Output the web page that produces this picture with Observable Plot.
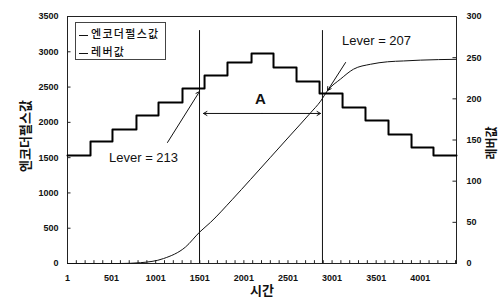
<!DOCTYPE html>
<html>
<head>
<meta charset="utf-8">
<script src="https://cdn.jsdelivr.net/npm/d3@7"></script>
<script src="https://cdn.jsdelivr.net/npm/@observablehq/plot@0.6"></script>
<style>
  html, body { margin: 0; padding: 0; background: #fff; }
  #wrap { position: relative; width: 500px; height: 303px; }
  #legend {
    position: absolute; left: 75px; top: 22px; width: 91px; height: 38px;
    border: 1px solid #444; background: #fff; box-sizing: border-box;
    font-family: "Noto Sans CJK KR", sans-serif; font-size: 11px; font-weight: 500;
    color: #111; padding-top: 1px;
  }
  #legend .row { height: 18px; line-height: 18px; white-space: nowrap; letter-spacing: 1.3px; }
  #legend .dash { display: inline-block; width: 9px; height: 1px; background: #111;
    vertical-align: middle; margin-left: 3px; margin-right: 3px; }
</style>
</head>
<body>
<div id="wrap"><div id="chart"></div>
<div id="legend"><div class="row"><span class="dash"></span>엔코더펄스값</div><div class="row"><span class="dash"></span>레버값</div></div>
</div>
<script>
// Encoder pulse value (step function, left axis)
const encTime  = [1, 262, 511, 783, 1033, 1305, 1555, 1815, 2088, 2337, 2598, 2859, 3120, 3380, 3641, 3902, 4151, 4412];
const encValue = [1530, 1729, 1899, 2097, 2281, 2480, 2664, 2848, 2976, 2777, 2579, 2409, 2210, 2026, 1828, 1643, 1530, 1530];

// Lever value (right axis, 0-300)
const leverTime  = [1, 602, 829, 1090, 1339, 1498, 1623, 1872, 2076, 2303, 2530, 2757, 2870, 2950, 3097, 3244, 3437, 3630, 3811, 4004, 4412];
const leverValue = [0, 0, 1, 6, 20, 38, 50, 78, 102, 129, 156, 183, 197, 210, 224, 236, 242, 245, 246, 247, 248];

// Axes
const xDomain = [1, 4412];
const xTicks = [1, 501, 1001, 1501, 2001, 2501, 3001, 3501, 4001];
const xMinor = d3.range(1, 4412, 100);
const yLeftTicks = [0, 500, 1000, 1500, 2000, 2500, 3000, 3500];
const yRightTicks = [0, 50, 100, 150, 200, 250, 300];
const leftMax = 3500, rightMax = 300;

// Markers and annotations
const markerTimes = [1498, 2892];
const markerTop = 3300;
const annoText  = ["Lever = 213", "Lever = 207"];
const annoTime  = [863, 3505];
const annoValue = [1502, 3160];
const arrowFromTime = [1135, 3154], arrowFromValue = [1715, 2848];
const arrowToTime   = [1498, 2950], arrowToValue   = [2437, 2451];
const spanLabel = "A";
const spanLabelTime = 2190, spanLabelValue = 2324;
const spanStart = 1543, spanEnd = 2870, spanValue = 2126;

const toLeft = v => v * leftMax / rightMax;
const enc = encTime.map((t, i) => ({t, v: encValue[i]}));
const lever = leverTime.map((t, i) => ({t, v: toLeft(leverValue[i])}));
const annos = annoText.map((s, i) => ({s, t: annoTime[i], v: annoValue[i]}));
const arrows = arrowFromTime.map((t, i) => ({x1: t, y1: arrowFromValue[i], x2: arrowToTime[i], y2: arrowToValue[i]}));
const mid = (spanStart + spanEnd) / 2;
const spanArrows = [{x1: mid, x2: spanStart}, {x1: mid, x2: spanEnd}];

const font = "'Liberation Sans', Arial, sans-serif";
const kfont = "'Noto Sans CJK KR', sans-serif";

const chart = Plot.plot({
  width: 500, height: 303,
  marginLeft: 67, marginRight: 44, marginTop: 16, marginBottom: 40,
  style: {fontFamily: font, fontSize: "9px", fontWeight: "bold", color: "#111", background: "#fff"},
  x: {domain: xDomain},
  y: {domain: [0, leftMax]},
  marks: [
    Plot.frame({stroke: "#222", strokeWidth: 1}),
    Plot.axisX({ticks: xTicks, tickSize: 0, tickPadding: 11, tickFormat: d => String(d), label: null}),
    Plot.axisY({anchor: "left", ticks: yLeftTicks, tickSize: 0, tickPadding: 9, tickFormat: d => String(d), label: null}),
    Plot.axisY({anchor: "right", ticks: yRightTicks.map(toLeft), tickSize: 0, tickPadding: 10,
      tickFormat: d => String(Math.round(d * rightMax / leftMax)), label: null}),
    // inward tick marks
    Plot.ruleX(xMinor, {x: d => d, y1: 0, y2: 40, stroke: "#222", strokeWidth: 1}),
    Plot.ruleY(yLeftTicks, {y: d => d, x1: xDomain[0], x2: xDomain[0] + 40, stroke: "#222"}),
    Plot.ruleY(yRightTicks.map(toLeft), {y: d => d, x1: xDomain[1] - 40, x2: xDomain[1], stroke: "#222"}),
    // marker lines
    Plot.ruleX(markerTimes, {x: d => d, y1: 0, y2: markerTop, stroke: "#111", strokeWidth: 1}),
    // data
    Plot.line(lever, {x: "t", y: "v", curve: "monotone-x", stroke: "#111", strokeWidth: 1}),
    Plot.line(enc, {x: "t", y: "v", curve: "step-after", stroke: "#000", strokeWidth: 2}),
    // annotations
    Plot.arrow(arrows, {x1: "x1", y1: "y1", x2: "x2", y2: "y2", stroke: "#111", strokeWidth: 1, headLength: 6}),
    Plot.arrow(spanArrows, {x1: "x1", x2: "x2", y1: spanValue, y2: spanValue, stroke: "#111", strokeWidth: 1, headLength: 6}),
    Plot.text(annos, {x: "t", y: "v", text: "s", fontSize: 13, fontWeight: "normal", fill: "#111", fontFamily: font}),
    Plot.text([spanLabel], {x: spanLabelTime, y: spanLabelValue, text: d => d, fontSize: 15, fontWeight: "bold", fill: "#111"}),
    // axis titles
    Plot.text(["엔코더펄스값"], {frameAnchor: "left", dx: -42, dy: -4, rotate: -90, textAnchor: "middle", text: d => d,
      fontSize: 13, fontWeight: "bold", fontFamily: kfont, fill: "#111"}),
    Plot.text(["레버값"], {frameAnchor: "right", dx: 36, dy: 3, rotate: -90, textAnchor: "middle", text: d => d,
      fontSize: 12, fontWeight: "bold", fontFamily: kfont, fill: "#111"}),
    Plot.text(["시간"], {frameAnchor: "bottom", dy: 31, text: d => d,
      fontSize: 13, fontWeight: "bold", fontFamily: kfont, fill: "#111"})
  ]
});
document.getElementById("chart").appendChild(chart);
</script>
</body>
</html>
